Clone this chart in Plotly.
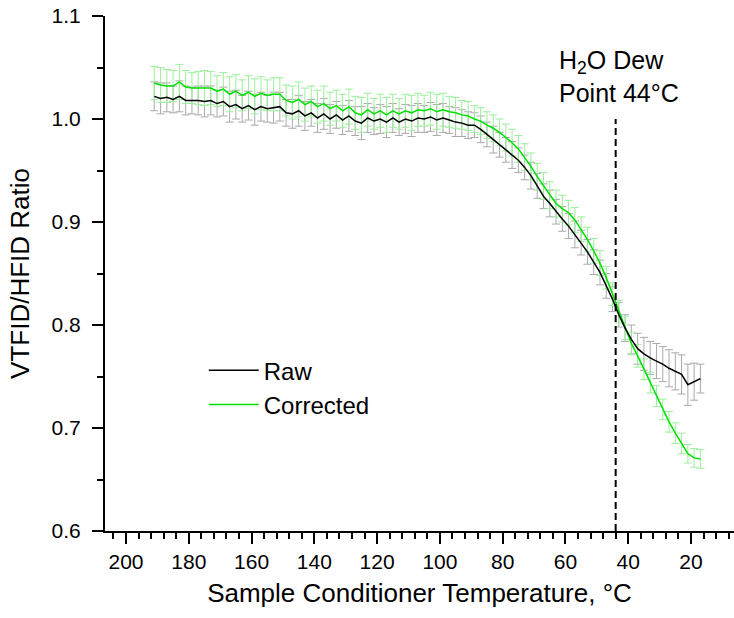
import plotly.graph_objects as go

# ---------------- data ----------------
temperature = [191, 189, 187, 185, 183, 181, 179, 177, 175, 173,
               171, 169, 167, 165, 163, 161, 159, 157, 155, 153,
               151, 149, 147, 145, 143, 141, 139, 137, 135, 133,
               131, 129, 127, 125, 123, 121, 119, 117, 115, 113,
               111, 109, 107, 105, 103, 101, 99, 97, 95, 93,
               91, 89, 87, 85, 83, 81, 79, 77, 75, 73,
               71, 69, 67, 65, 63, 61, 59, 57, 55, 53,
               51, 49, 47, 45, 43, 41, 39, 37, 35, 33,
               31, 29, 27, 25, 23, 21, 19, 17]

raw = [1.022, 1.020, 1.021, 1.019, 1.022, 1.018, 1.018, 1.018, 1.017, 1.018,
       1.015, 1.017, 1.012, 1.014, 1.010, 1.013, 1.009, 1.012, 1.010, 1.011,
       1.012, 1.006, 1.005, 1.008, 1.003, 1.006, 1.001, 1.005, 1.000, 1.004,
       0.999, 1.003, 0.998, 0.996, 1.001, 0.998, 1.000, 0.997, 1.001, 0.997,
       1.000, 0.998, 1.001, 1.000, 1.002, 0.999, 1.001, 0.999, 0.997, 0.996,
       0.994, 0.994, 0.990, 0.985, 0.980, 0.975, 0.970, 0.965, 0.960, 0.953,
       0.945, 0.935, 0.925, 0.918, 0.910, 0.903, 0.896, 0.888, 0.880, 0.871,
       0.861, 0.851, 0.838, 0.825, 0.810, 0.797, 0.786, 0.777, 0.772, 0.768,
       0.765, 0.762, 0.758, 0.755, 0.752, 0.742, 0.745, 0.748]

raw_err = [0.014, 0.015, 0.014, 0.013, 0.015, 0.014, 0.013, 0.014, 0.015, 0.014,
           0.013, 0.014, 0.015, 0.014, 0.013, 0.014, 0.015, 0.014, 0.013, 0.015,
           0.014, 0.013, 0.014, 0.015, 0.014, 0.013, 0.014, 0.015, 0.014, 0.013,
           0.014, 0.015, 0.014, 0.016, 0.014, 0.013, 0.014, 0.015, 0.014, 0.013,
           0.014, 0.015, 0.014, 0.013, 0.014, 0.015, 0.014, 0.013, 0.014, 0.013,
           0.013, 0.012, 0.013, 0.012, 0.013, 0.012, 0.012, 0.013, 0.012, 0.012,
           0.013, 0.012, 0.012, 0.013, 0.012, 0.012, 0.012, 0.013, 0.012, 0.012,
           0.012, 0.012, 0.012, 0.012, 0.012, 0.013, 0.014, 0.015, 0.016, 0.016,
           0.017, 0.017, 0.018, 0.018, 0.019, 0.020, 0.018, 0.014]

corrected = [1.035, 1.033, 1.032, 1.032, 1.036, 1.031, 1.030, 1.030, 1.030, 1.030,
             1.027, 1.029, 1.024, 1.027, 1.023, 1.026, 1.022, 1.025, 1.023, 1.024,
             1.024, 1.018, 1.016, 1.019, 1.014, 1.017, 1.012, 1.015, 1.010, 1.013,
             1.008, 1.012, 1.006, 1.004, 1.009, 1.005, 1.008, 1.004, 1.008, 1.005,
             1.008, 1.006, 1.009, 1.008, 1.010, 1.007, 1.009, 1.007, 1.006, 1.004,
             1.003, 1.000, 0.998, 0.994, 0.991, 0.987, 0.982, 0.977, 0.971, 0.963,
             0.954, 0.944, 0.935, 0.926, 0.918, 0.913, 0.909, 0.902, 0.893, 0.883,
             0.872, 0.860, 0.846, 0.830, 0.813, 0.797, 0.782, 0.770, 0.757, 0.744,
             0.731, 0.718, 0.706, 0.695, 0.685, 0.675, 0.671, 0.670]

corrected_err = [0.016, 0.017, 0.016, 0.015, 0.017, 0.016, 0.015, 0.016, 0.017, 0.016,
                 0.015, 0.016, 0.017, 0.016, 0.015, 0.016, 0.017, 0.016, 0.015, 0.016,
                 0.016, 0.015, 0.016, 0.017, 0.016, 0.015, 0.016, 0.017, 0.016, 0.015,
                 0.016, 0.017, 0.016, 0.017, 0.016, 0.015, 0.016, 0.017, 0.016, 0.015,
                 0.016, 0.017, 0.016, 0.015, 0.016, 0.017, 0.016, 0.015, 0.015, 0.014,
                 0.014, 0.013, 0.013, 0.013, 0.013, 0.013, 0.013, 0.013, 0.013, 0.013,
                 0.013, 0.013, 0.013, 0.013, 0.013, 0.013, 0.012, 0.012, 0.012, 0.012,
                 0.012, 0.012, 0.011, 0.011, 0.011, 0.011, 0.011, 0.011, 0.010, 0.010,
                 0.010, 0.010, 0.010, 0.010, 0.010, 0.009, 0.009, 0.009]

dew_point = 44
dew_label = "H<sub>2</sub>O Dew<br>Point 44°C"
x_title = "Sample Conditioner Temperature, °C"
y_title = "VTFID/HFID Ratio"

FONT = "Liberation Sans, Arial, sans-serif"

fig = go.Figure()

# error bars (drawn beneath the lines)
fig.add_trace(go.Scatter(
    x=temperature, y=raw, mode="markers",
    marker=dict(size=1, color="rgba(0,0,0,0)"),
    error_y=dict(type="data", array=raw_err, color="rgb(170,170,170)",
                 thickness=1, width=4),
    showlegend=False, hoverinfo="skip"))
fig.add_trace(go.Scatter(
    x=temperature, y=corrected, mode="markers",
    marker=dict(size=1, color="rgba(0,0,0,0)"),
    error_y=dict(type="data", array=corrected_err, color="rgb(155,240,155)",
                 thickness=1, width=4),
    showlegend=False, hoverinfo="skip"))

fig.add_trace(go.Scatter(
    x=temperature, y=corrected, mode="lines", name="Corrected",
    line=dict(color="#00e000", width=1.5), legendrank=2))
fig.add_trace(go.Scatter(
    x=temperature, y=raw, mode="lines", name="Raw",
    line=dict(color="black", width=1.5), legendrank=1))

fig.add_shape(type="line", xref="x", yref="y",
              x0=dew_point, x1=dew_point, y0=0.6, y1=1.0,
              line=dict(color="black", width=2, dash="7px,4px"))

fig.add_annotation(text=dew_label, xref="paper", yref="paper",
                   x=0.7186, y=0.9466, xanchor="left", yanchor="top",
                   align="left", showarrow=False,
                   font=dict(family=FONT, size=25, color="black"))

fig.update_layout(
    width=734, height=618,
    margin=dict(l=105, r=0, t=16, b=87),
    paper_bgcolor="white", plot_bgcolor="white",
    font=dict(family=FONT, color="black"),
    showlegend=True,
    legend=dict(x=0.157, y=0.355, xanchor="left", yanchor="top",
                bgcolor="rgba(0,0,0,0)", font=dict(family=FONT, size=24),
                traceorder="normal", itemwidth=50, tracegroupgap=0),
)

fig.update_xaxes(
    range=[206.7, 6.3], tick0=0, dtick=20,
    showgrid=False, zeroline=False,
    showline=True, linecolor="black", linewidth=2,
    ticks="outside", ticklen=11, tickwidth=2, tickcolor="black",
    minor=dict(dtick=4, ticks="outside", ticklen=6, tickwidth=1.5,
               tickcolor="black", showgrid=False),
    tickfont=dict(family=FONT, size=21, color="black"),
    title=dict(text=x_title, font=dict(family=FONT, size=26, color="black"),
               standoff=12),
)
fig.update_yaxes(
    range=[0.6, 1.1], tick0=0.6, dtick=0.1, tickformat=".1f",
    showgrid=False, zeroline=False,
    showline=True, linecolor="black", linewidth=2,
    ticks="outside", ticklen=11, tickwidth=2, tickcolor="black",
    minor=dict(dtick=0.05, ticks="outside", ticklen=6, tickwidth=1.5,
               tickcolor="black", showgrid=False),
    tickfont=dict(family=FONT, size=21, color="black"),
    ticklabelstandoff=7,
    title=dict(text=y_title, font=dict(family=FONT, size=26, color="black"),
               standoff=14),
)

fig.write_html("out.html")
